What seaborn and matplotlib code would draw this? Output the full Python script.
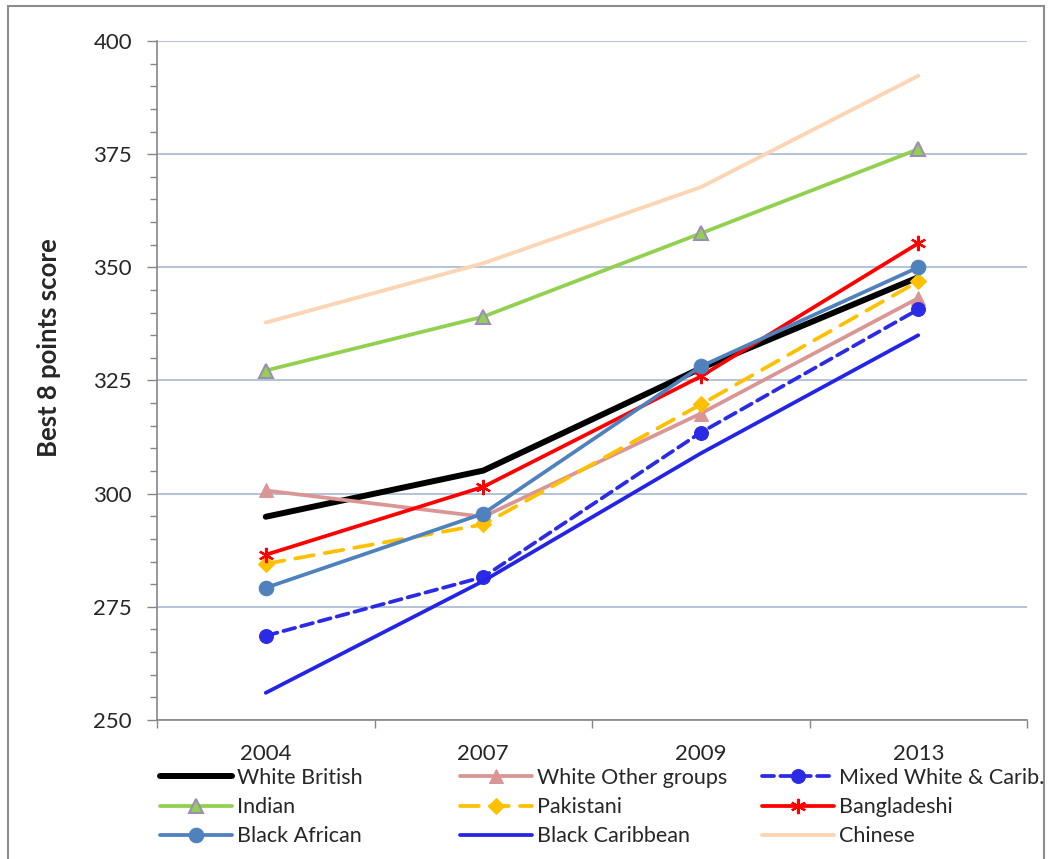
import pandas as pd
import seaborn as sns
import matplotlib.pyplot as plt
from matplotlib.patches import Rectangle
from matplotlib.ticker import MultipleLocator, FixedLocator

years = ['2004', '2007', '2009', '2013']

white_british = [294.9, 305.1, 327.7, 347.8]
white_other = [300.7, 294.9, 317.7, 343.2]
mixed_wc = [268.6, 281.6, 313.5, 340.7]
indian = [327.2, 339.1, 357.5, 376.1]
pakistani = [284.5, 293.2, 319.7, 346.9]
bangladeshi = [286.5, 301.5, 325.9, 355.3]
black_african = [279.2, 295.6, 328.1, 350.0]
black_caribbean = [256.0, 280.7, 308.9, 335.0]
chinese = [337.8, 350.9, 367.7, 392.3]

series_names = ['White British', 'White Other groups', 'Mixed White & Carib.',
                'Indian', 'Pakistani', 'Bangladeshi',
                'Black African', 'Black Caribbean', 'Chinese']
series_values = [white_british, white_other, mixed_wc, indian, pakistani,
                 bangladeshi, black_african, black_caribbean, chinese]

styles = {
    'White British': dict(color='black', lw=4.3),
    'White Other groups': dict(color='#D99694', lw=2.7, marker='^', ms=10,
                               mfc='#D99694', mec='#D99694'),
    'Mixed White & Carib.': dict(color='#2B2BE6', lw=2.7, marker='o', ms=10,
                                 mfc='#2B2BE6', mec='#2B2BE6', dashes=(3.2, 1.7)),
    'Indian': dict(color='#92D050', lw=2.7, marker='^', ms=10,
                   mfc='#92D050', mec='#9C8DB8', mew=1.5),
    'Pakistani': dict(color='#FFC000', lw=2.7, marker='D', ms=8,
                      mfc='#FFC000', mec='#FFC000', dashes=(5, 3)),
    'Bangladeshi': dict(color='#FF0000', lw=2.7, marker=(6, 2, 0), ms=11,
                        mfc='#FF0000', mec='#FF0000', mew=1.6),
    'Black African': dict(color='#4F81BD', lw=2.7, marker='o', ms=10.5,
                          mfc='#4F81BD', mec='#4F81BD'),
    'Black Caribbean': dict(color='#2424E6', lw=2.7),
    'Chinese': dict(color='#FCD5B5', lw=2.8),
}

sns.set_style('white')
plt.rcParams['font.family'] = ['Lato', 'DejaVu Sans']

fig = plt.figure(figsize=(10.49, 8.59), dpi=100)
ax = fig.add_axes([157 / 1049, 1 - 720 / 859, (1027 - 157) / 1049, (720 - 41) / 859])

handles = {}
for name, vals in zip(series_names, series_values):
    st = dict(styles[name])
    dashes = st.pop('dashes', None)
    df = pd.DataFrame({'year': years, 'score': vals})
    sns.lineplot(data=df, x='year', y='score', ax=ax, label=name,
                 solid_capstyle='round', dash_capstyle='round', **st)
    line = ax.lines[-1]
    if dashes is not None:
        line.set_dashes(dashes)
    handles[name] = line

if ax.get_legend() is not None:
    ax.get_legend().remove()

ax.set_xlim(-0.5, 3.5)
ax.set_ylim(250, 400)
ax.yaxis.set_major_locator(MultipleLocator(25))
ax.yaxis.set_minor_locator(MultipleLocator(5))
ax.xaxis.set_minor_locator(FixedLocator([-0.5, 0.5, 1.5, 2.5, 3.5]))

ax.grid(axis='y', color='#A7B9D1', lw=1.2)
ax.set_axisbelow(True)
for s in ['top', 'right']:
    ax.spines[s].set_visible(False)
for s in ['left', 'bottom']:
    ax.spines[s].set_color('#868686')
    ax.spines[s].set_linewidth(1.2)

ax.tick_params(axis='y', which='major', direction='out', length=7, width=1,
               color='#868686', labelsize=16, pad=11, left=True)
ax.tick_params(axis='y', which='minor', direction='out', length=5, width=1,
               color='#868686', left=True)
ax.tick_params(axis='x', which='major', length=0, labelsize=16, pad=17)
ax.tick_params(axis='x', which='minor', direction='out', length=6, width=1,
               color='#868686', bottom=True)

ax.set_xlabel('')
ax.set_ylabel('Best 8 points score', fontsize=18.5, fontweight='bold')
ax.yaxis.set_label_coords(-0.11, 0.549)

# legend laid out row by row like the original, one column per legend
columns = [['White British', 'Indian', 'Black African'],
           ['White Other groups', 'Pakistani', 'Black Caribbean'],
           ['Mixed White & Carib.', 'Bangladeshi', 'Chinese']]
col_x = [160, 460, 762]
for names, x in zip(columns, col_x):
    fig.legend([handles[n] for n in names], names, loc='upper left',
               bbox_to_anchor=(x / 1049, 1 - 768 / 859), frameon=False,
               fontsize=15.5, handlelength=3.35, handletextpad=0.23,
               labelspacing=0.42, borderpad=0, borderaxespad=0)

fig.patches.append(Rectangle((8 / 1049, -0.02), (1044 - 8) / 1049, 1 - 6 / 859 + 0.02,
                             transform=fig.transFigure, fill=False,
                             edgecolor='#8C8C8C', lw=1.5))

fig.savefig('out.png', dpi=100)
